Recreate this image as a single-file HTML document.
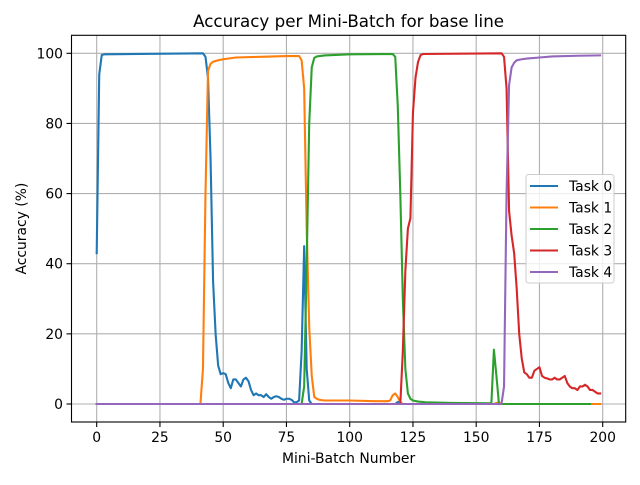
<!DOCTYPE html>
<html><head><meta charset="utf-8"><style>
body{margin:0;background:#fff;}
svg text{font-family:"DejaVu Sans","Liberation Sans",sans-serif;fill:#000;}
</style></head><body>
<svg id="chart" width="640" height="480" xmlns="http://www.w3.org/2000/svg">
<rect width="640" height="480" fill="#fff"/>
<g id="grid"></g><g id="ticks"></g><g id="series"></g>
<rect x="71.5" y="35.3" width="554.2" height="386.7" fill="none" stroke="#000" stroke-width="1.1"/>
<text x="348.6" y="27" text-anchor="middle" font-size="16.7">Accuracy per Mini-Batch for base line</text>
<text x="348.6" y="463" text-anchor="middle" font-size="13.9">Mini-Batch Number</text>
<text x="0" y="0" transform="translate(26,228.6) rotate(-90)" text-anchor="middle" font-size="13.9">Accuracy (%)</text>
<g id="legend"></g>
</svg>
<script>
const xTicks=[0,25,50,75,100,125,150,175,200];
const yTicks=[0,20,40,60,80,100];
const seriesNames=["Task 0","Task 1","Task 2","Task 3","Task 4"];
const colors=["#1f77b4","#ff7f0e","#2ca02c","#d62728","#9467bd"];
const t0x=[0,1,2,3,42,43,44,45,46,47,48,49,50,51,52,53,54,55,56,57,58,59,60,61,62,63,64,65,66,67,68,69,70,71,72,73,74,75,76,77,78,79,80,81,82,83,84,85,118,119,120,199];
const t0y=[43,94,99.5,99.7,100,99,93,70,35,20,11,8.5,8.8,8.5,6,4.5,7,7,6,5,7,7.5,6.5,4,2.5,3,2.5,2.5,2,2.8,2,1.5,2,2.2,2,1.5,1.2,1.5,1.5,1.2,0.5,0.5,1,15,45,10,1,0,0,0.6,0,0];
const t1x=[0,41,42,43,44,45,46,48,50,55,65,75,80,81,82,83,84,85,86,87,88,90,100,110,115,116,117,118,119,120,121,157,158,159,160,199];
const t1y=[0,0,10,60,95,97,97.6,98,98.3,98.8,99,99.2,99.2,98,90,50,22,8,2,1.5,1.2,1,1,0.8,0.8,1,2.5,3,2,0.5,0,0,0.3,0.5,0,0];
const t2x=[0,81,82,83,84,85,86,87,90,100,117,118,119,120,121,122,123,124,125,127,130,140,156,157,158,159,195];
const t2y=[0,0,5,40,80,96,98.7,99.1,99.4,99.7,99.8,99,85,60,30,10,3,1.5,1,0.7,0.5,0.3,0.2,15.5,8,0,0];
const t3x=[0,120,121,122,123,124,125,126,127,128,129,160,161,162,163,164,165,166,167,168,169,170,171,172,173,174,175,176,177,178,179,180,181,182,183,184,185,186,187,188,189,190,191,192,193,194,195,196,197,198,199];
const t3y=[0,0,15,38,50,53,83,93,97.5,99.5,99.8,100,99,90,55,48,43,33,20,13,9,8.5,7.5,7.5,9.5,10,10.5,8,7.5,7.3,7,7,7.5,7,7,7.5,8,6,5,4.5,4.5,4,5,5,5.5,5,4,4,3.5,3,3];
const t4x=[0,160,161,162,163,164,165,166,168,170,175,180,190,199];
const t4y=[0,0,5,60,91,96,97.3,98,98.3,98.5,98.8,99.1,99.3,99.4];
const allX=[t0x,t1x,t2x,t3x,t4x], allY=[t0y,t1y,t2y,t3y,t4y];
const NS="http://www.w3.org/2000/svg";
const X=v=>96.7+(v)*(602.7-96.7)/200;
const Y=v=>404-(v)*(404-53.3)/100;
function mk(tag,attrs,parent){const e=document.createElementNS(NS,tag);for(const k in attrs)e.setAttribute(k,attrs[k]);parent.appendChild(e);return e;}
const grid=document.getElementById('grid'),ticks=document.getElementById('ticks'),ser=document.getElementById('series'),leg=document.getElementById('legend');
xTicks.forEach(t=>{
 const g=mk('line',{x1:X(t),x2:X(t),y1:35.3,y2:422,stroke:'#b0b0b0','stroke-width':1.1},grid);
 
 
 mk('line',{x1:X(t),x2:X(t),y1:422,y2:427,stroke:'#000','stroke-width':1.1},ticks);
 const tx=mk('text',{x:X(t),y:442,'text-anchor':'middle','font-size':13.9},ticks);tx.textContent=t;
 
 
});
yTicks.forEach(t=>{
 const g=mk('line',{x1:71.5,x2:625.7,y1:Y(t),y2:Y(t),stroke:'#b0b0b0','stroke-width':1.1},grid);
 
 
 mk('line',{x1:66.5,x2:71.5,y1:Y(t),y2:Y(t),stroke:'#000','stroke-width':1.1},ticks);
 const tx=mk('text',{x:63,y:Y(t)+5,'text-anchor':'end','font-size':13.9},ticks);tx.textContent=t;
 
 
});
allX.forEach((xs,i)=>{
 const d=xs.map((x,j)=>(j?'L':'M')+X(x).toFixed(2)+' '+Y(allY[i][j]).toFixed(2)).join(' ');
 const p=mk('path',{d:d,fill:'none',stroke:colors[i],'stroke-width':2.1,'stroke-linejoin':'round','stroke-linecap':'square'},ser);
 
 
});
const lb=mk('rect',{x:526,y:174.5,width:88,height:108.5,rx:2.5,fill:'#fff','fill-opacity':0.8,stroke:'#ccc'},leg);


seriesNames.forEach((n,i)=>{
 const y=186+i*21.5;
 const l=mk('line',{x1:530,x2:558,y1:y,y2:y,stroke:colors[i],'stroke-width':2.1},leg);
 
 
 const t=mk('text',{x:569,y:y+5,'font-size':13.9},leg);t.textContent=n;
 
 
});
</script>
</body></html>
